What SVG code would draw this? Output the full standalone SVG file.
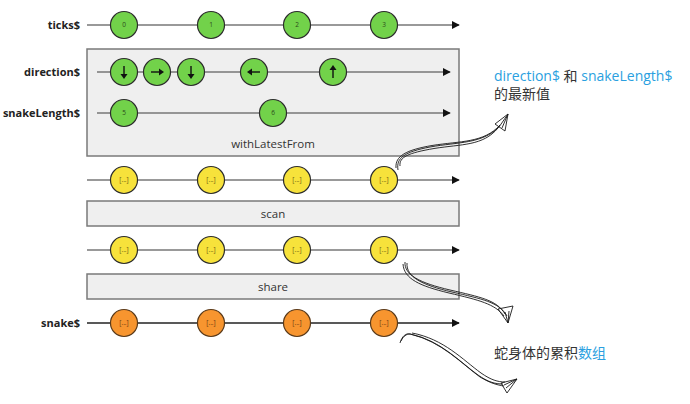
<svg xmlns="http://www.w3.org/2000/svg" width="690" height="404" viewBox="0 0 690 404">
<defs>
<style>
.lbl{font-family:"Open Sans","DejaVu Sans",sans-serif;font-weight:bold;font-size:11px;fill:#222;text-anchor:end}
.op{font-family:"Open Sans","DejaVu Sans",sans-serif;font-size:11.5px;fill:#333;text-anchor:middle}
.box{fill:#efefef;stroke:#7a7a7a;stroke-width:1.5}
.tl{stroke:#777;stroke-width:1.3;fill:none}
.tlb{stroke:#222;stroke-width:1.3;fill:none}
.g{fill:#72d24a;stroke:#2c2c2c;stroke-width:1.2}
.y{fill:#f7e23b;stroke:#2c2c2c;stroke-width:1.2}
.o{fill:#f7952f;stroke:#5a3a1a;stroke-width:1.2}
.n{font-family:"Open Sans","DejaVu Sans",sans-serif;font-size:6.5px;fill:#2d4a1a;text-anchor:middle}
.b{font-family:"Open Sans","DejaVu Sans",sans-serif;font-size:6.5px;fill:#6b5a10;text-anchor:middle}
.bo{font-family:"Open Sans","DejaVu Sans",sans-serif;font-size:6.5px;fill:#6b3a10;text-anchor:middle}
.ann{font-family:"Open Sans","Noto Sans CJK SC",sans-serif;font-size:14px;fill:#333}
.blue{fill:#2a9fe0}
.sk{stroke:#1a1a1a;stroke-width:0.9;fill:none}
.ar{stroke:#111;stroke-width:1.4;fill:none}
</style>
<marker id="ah" viewBox="0 0 10 10" refX="9" refY="5" markerWidth="8" markerHeight="8" markerUnits="userSpaceOnUse" orient="auto">
<path d="M0,0 L10,5 L0,10 z" fill="#111"/>
</marker>
</defs>

<g id="boxes">
<rect id="withLatestFrom" class="box" x="87" y="49" width="372" height="107"/>
<rect id="scan" class="box" x="87" y="201" width="372" height="25"/>
<rect id="share" class="box" x="87" y="274" width="372" height="25"/>
<text class="op" x="273" y="148">withLatestFrom</text>
<text class="op" x="273" y="218">scan</text>
<text class="op" x="273" y="291">share</text>
</g>

<g id="connectors">
<line class="tl" x1="87" y1="25" x2="459" y2="25" marker-end="url(#ah)"/>
<line class="tl" x1="97" y1="72" x2="450" y2="72" marker-end="url(#ah)"/>
<line class="tl" x1="97" y1="113" x2="450" y2="113" marker-end="url(#ah)"/>
<line class="tl" x1="87" y1="180" x2="459" y2="180" marker-end="url(#ah)"/>
<line class="tl" x1="87" y1="250" x2="459" y2="250" marker-end="url(#ah)"/>
<line class="tlb" x1="87" y1="323" x2="459" y2="323" marker-end="url(#ah)"/>
</g>

<g id="labels">
<text class="lbl" x="80" y="29">ticks$</text>
<text class="lbl" x="80" y="76">direction$</text>
<text class="lbl" x="80" y="117">snakeLength$</text>
<text class="lbl" x="80" y="327">snake$</text>
</g>

<g id="ticks">
<circle class="g" cx="124" cy="25" r="13.5"/><text class="n" x="124" y="27">0</text>
<circle class="g" cx="211" cy="25" r="13.5"/><text class="n" x="211" y="27">1</text>
<circle class="g" cx="297" cy="25" r="13.5"/><text class="n" x="297" y="27">2</text>
<circle class="g" cx="384" cy="25" r="13.5"/><text class="n" x="384" y="27">3</text>
</g>

<g id="direction">
<circle class="g" cx="124" cy="72" r="13.5"/>
<line class="ar" x1="124" y1="66" x2="124" y2="75"/><path d="M120.5,74 L127.5,74 L124,79 z" fill="#111"/>
<circle class="g" cx="157" cy="72" r="13.5"/>
<line class="ar" x1="151" y1="72" x2="160" y2="72"/><path d="M159,68.5 L159,75.5 L164,72 z" fill="#111"/>
<circle class="g" cx="191" cy="72" r="13.5"/>
<line class="ar" x1="191" y1="66" x2="191" y2="75"/><path d="M187.5,74 L194.5,74 L191,79 z" fill="#111"/>
<circle class="g" cx="254" cy="72" r="13.5"/>
<line class="ar" x1="260" y1="72" x2="251" y2="72"/><path d="M252,68.5 L252,75.5 L247,72 z" fill="#111"/>
<circle class="g" cx="333" cy="72" r="13.5"/>
<line class="ar" x1="333" y1="78" x2="333" y2="69"/><path d="M329.5,70 L336.5,70 L333,65 z" fill="#111"/>
</g>

<g id="snakeLength">
<circle class="g" cx="124" cy="113" r="13.5"/><text class="n" x="124" y="115">5</text>
<circle class="g" cx="273" cy="113" r="13.5"/><text class="n" x="273" y="115">6</text>
</g>

<g id="latest">
<circle class="y" cx="124" cy="180" r="13.5"/><text class="b" x="124" y="182">[...]</text>
<circle class="y" cx="211" cy="180" r="13.5"/><text class="b" x="211" y="182">[...]</text>
<circle class="y" cx="297" cy="180" r="13.5"/><text class="b" x="297" y="182">[...]</text>
<circle class="y" cx="384" cy="180" r="13.5"/><text class="b" x="384" y="182">[...]</text>
</g>

<g id="scanned">
<circle class="y" cx="124" cy="250" r="13.5"/><text class="b" x="124" y="252">[...]</text>
<circle class="y" cx="211" cy="250" r="13.5"/><text class="b" x="211" y="252">[...]</text>
<circle class="y" cx="297" cy="250" r="13.5"/><text class="b" x="297" y="252">[...]</text>
<circle class="y" cx="384" cy="250" r="13.5"/><text class="b" x="384" y="252">[...]</text>
</g>

<g id="snake">
<circle class="o" cx="124" cy="323" r="13.5"/><text class="bo" x="124" y="325">[...]</text>
<circle class="o" cx="211" cy="323" r="13.5"/><text class="bo" x="211" y="325">[...]</text>
<circle class="o" cx="297" cy="323" r="13.5"/><text class="bo" x="297" y="325">[...]</text>
<circle class="o" cx="384" cy="323" r="13.5"/><text class="bo" x="384" y="325">[...]</text>
</g>

<g id="sketch-arrows">
<path class="sk" d="M398,170 C396,158 404,152 430,147 C458,142 482,144 499,127"/>
<path class="sk" d="M396,168 C395,156 406,150 432,145.5 C460,141 484,143 500,125"/>
<path class="sk" d="M400,166 C399,157 408,153 434,148.5 C462,144 483,146 498,128"/>
<path class="sk" d="M508,114 L495,124 L505,131 z M508,114 L499,127 M508,114 L502,128"/>

<path class="sk" d="M405,262 C404,275 420,283 450,290 C480,297 497,300 505,314"/>
<path class="sk" d="M407,263 C406,277 422,285 452,292 C482,299 499,302 507,316"/>
<path class="sk" d="M403,264 C404,279 420,286 449,293 C479,300 495,304 504,316"/>
<path class="sk" d="M508,323 L498,309 L513,306 z M508,323 L505,312 M508,323 L509,311"/>

<path class="sk" d="M400,343 C402,336 406,333 410,334 C440,340 460,362 478,375 C488,382 495,384 503,384"/>
<path class="sk" d="M401,341 C404,335 408,333 412,334.5 C442,342 462,364 480,377 C490,383 497,385 504,386"/>
<path class="sk" d="M412,333 C444,339 463,360 481,373 C491,380 498,382 505,382"/>
<path class="sk" d="M517,379 L501,383 L507,393 z M517,379 L504,385 M517,379 L506,388"/>
</g>

<g id="annotations">
<text class="ann" x="494" y="81"><tspan class="blue">direction$</tspan> 和 <tspan class="blue">snakeLength$</tspan></text>
<text class="ann" x="494" y="99">的最新值</text>
<text class="ann" x="494" y="358">蛇身体的累积<tspan class="blue">数组</tspan></text>
</g>
</svg>
